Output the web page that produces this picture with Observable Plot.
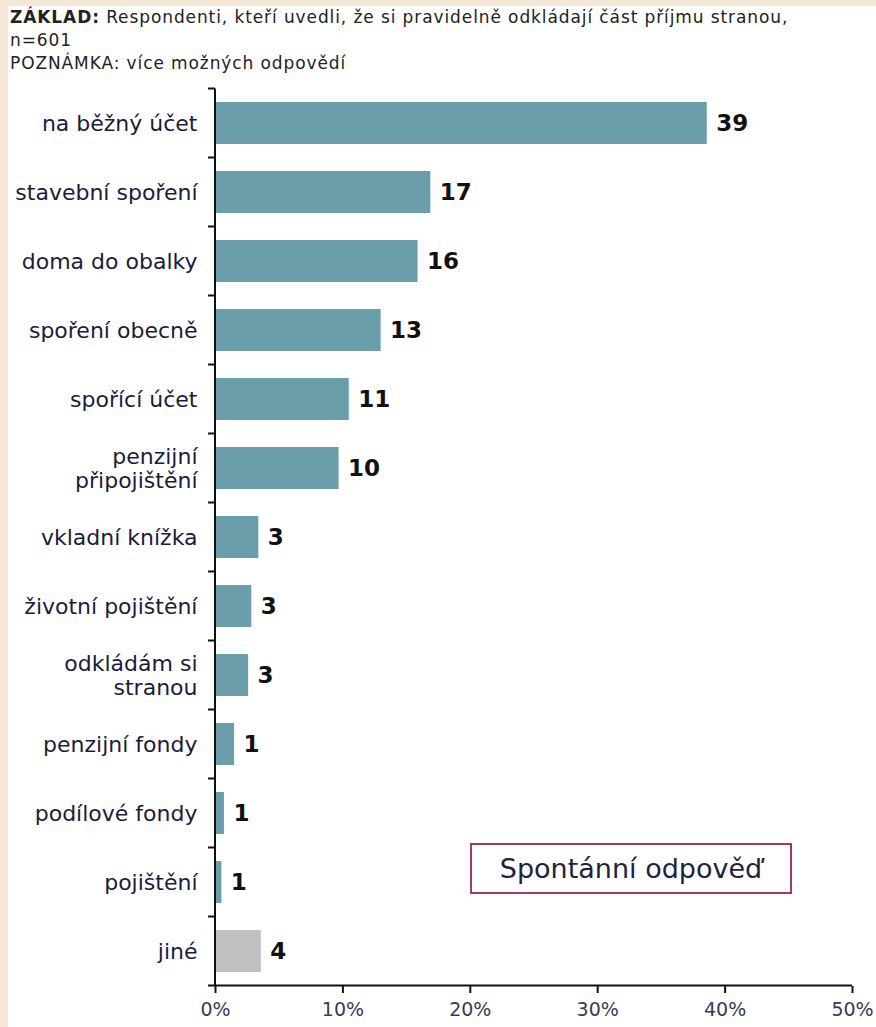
<!DOCTYPE html>
<html>
<head>
<meta charset="utf-8">
<script src="https://cdn.jsdelivr.net/npm/d3@7"></script>
<script src="https://cdn.jsdelivr.net/npm/@observablehq/plot@0.6"></script>
<style>
  html, body { margin: 0; padding: 0; }
  body { width: 876px; height: 1027px; background: #f6e8d6; position: relative; overflow: hidden; font-family: "DejaVu Sans", Verdana, sans-serif; }
  #paper { position: absolute; left: 8px; top: 6px; width: 868px; height: 1021px; background: #fff; }
  #header { position: absolute; left: 10px; top: 6px; font-size: 17px; letter-spacing: 0.9px; line-height: 23px; color: #222; white-space: nowrap; }
  #chart { position: absolute; left: 0; top: 80px; }
  #note { position: absolute; left: 470px; top: 843px; width: 318px; height: 47px; border: 2px solid #a03c6c; background: #fff;
          display: flex; align-items: center; justify-content: center; font-size: 27px; color: #1c2440; }
</style>
</head>
<body>
<div id="paper"></div>
<div id="header"><b>ZÁKLAD:</b> Respondenti, kteří uvedli, že si pravidelně odkládají část příjmu stranou,<br>n=601<br>POZNÁMKA: více možných odpovědí</div>
<div id="chart"></div>
<div id="note">Spontánní odpověď</div>
<script>
const categories = [
  "na běžný účet",
  "stavební spoření",
  "doma do obalky",
  "spoření obecně",
  "spořící účet",
  "penzijní\npřipojištění",
  "vkladní knížka",
  "životní pojištění",
  "odkládám si\nstranou",
  "penzijní fondy",
  "podílové fondy",
  "pojištění",
  "jiné"
];
const values = [38.6, 16.9, 15.9, 13.0, 10.5, 9.7, 3.4, 2.85, 2.6, 1.5, 0.7, 0.5, 3.6];
const valueLabels = ["39", "17", "16", "13", "11", "10", "3", "3", "3", "1", "1", "1", "4"];
const kinds = ["main", "main", "main", "main", "main", "main", "main", "main", "main", "main", "main", "main", "other"];
const xTicks = [0, 10, 20, 30, 40, 50];

const data = categories.map((c, i) => ({category: c, value: values[i], label: valueLabels[i], kind: kinds[i]}));

// axis lines and band-boundary ticks, positioned through Plot's scales
function axisLines(index, scales, values, dims) {
  const y = scales.y, x = scales.x;
  const bw = typeof y.bandwidth === "function" ? y.bandwidth() : (scales.scales && scales.scales.y ? scales.scales.y.bandwidth : 0);
  const step = y(categories[1]) - y(categories[0]);
  const g = d3.create("svg:g").attr("stroke", "#111").attr("stroke-width", 2);
  const x0 = x(0);
  const top = y(categories[0]) + bw / 2 - step / 2;
  const bottom = y(categories[categories.length - 1]) + bw / 2 + step / 2;
  g.append("line").attr("x1", x0).attr("x2", x0).attr("y1", top).attr("y2", bottom);
  g.append("line").attr("x1", x0).attr("x2", x(xTicks[xTicks.length - 1])).attr("y1", bottom).attr("y2", bottom);
  for (let i = 0; i <= categories.length; i++) {
    const yy = top + i * step;
    g.append("line").attr("x1", x0 - 7).attr("x2", x0).attr("y1", yy).attr("y2", yy);
  }
  return g.node();
}

const chart = Plot.plot({
  width: 876,
  height: 947,
  marginLeft: 215,
  marginRight: 24,
  marginTop: 8,
  marginBottom: 41,
  style: {fontFamily: "DejaVu Sans, Verdana, sans-serif", background: "transparent", overflow: "visible"},
  x: {domain: [0, 50]},
  y: {domain: categories, paddingInner: 0.39, paddingOuter: 0.195},
  color: {domain: ["main", "other"], range: ["#6a9eaa", "#c0c0c0"]},
  marks: [
    Plot.barX(data, {x: "value", y: "category", fill: "kind"}),
    Plot.text(data, {x: "value", y: "category", text: "label", textAnchor: "start", dx: 9,
      fontWeight: "bold", fontSize: 23, fill: "#111"}),
    Plot.axisY({tickSize: 0, tickPadding: 18, fontSize: 22, lineHeight: 1.1, fill: "#1c1c3a", label: null}),
    Plot.axisX({ticks: xTicks, tickFormat: d => d + "%", tickSize: 7, tickPadding: 9, fontSize: 19,
      stroke: "#111", strokeWidth: 2, fill: "#3a3a55", label: null}),
    axisLines
  ]
});
document.getElementById("chart").appendChild(chart);
</script>
</body>
</html>
